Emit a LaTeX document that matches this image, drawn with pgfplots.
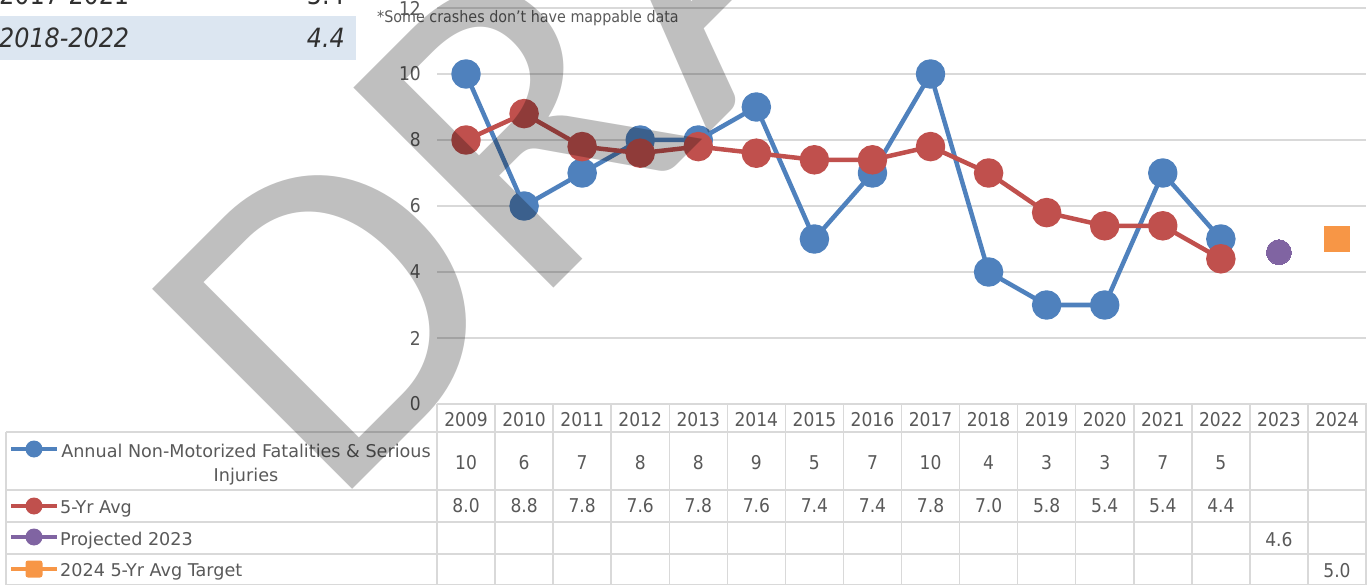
\documentclass[border=0pt]{standalone}
\usepackage{pgfplots}
\pgfplotsset{compat=1.18}
\usepackage{fontspec}
\setmainfont{DejaVu Sans Condensed}
\newfontfamily\legfont{DejaVu Sans}
\newfontfamily\wmfont[Kerning=Off]{Carlito}
\definecolor{blueS}{HTML}{4F81BD}
\definecolor{redS}{HTML}{C0504D}
\definecolor{purpS}{HTML}{8064A2}
\definecolor{orgS}{HTML}{F79646}
\definecolor{gridc}{HTML}{D9D9D9}
\definecolor{txt}{HTML}{595959}
\definecolor{dtxt}{HTML}{303030}
\definecolor{bgblue}{HTML}{DCE6F1}
\begin{document}
\begin{tikzpicture}
\useasboundingbox (0pt,0pt) rectangle (1371pt,-585pt);
\clip (0pt,0pt) rectangle (1371pt,-585pt);
\begin{scope}[x=1pt,y=-1pt]
  \fill[bgblue] (0,16) rectangle (356,60);
  \node[anchor=base west, inner sep=0pt, font=\fontsize{26.5}{30}\selectfont, text=dtxt] at (-1,5) {2017-2021};
  \node[anchor=base east, inner sep=0pt, font=\fontsize{26.5}{30}\selectfont, text=dtxt] at (345,5) {5.4};
  \node[anchor=base west, inner sep=0pt, font=\fontsize{26.5}{30}\selectfont\itshape, text=dtxt] at (-1,48) {2018-2022};
  \node[anchor=base east, inner sep=0pt, font=\fontsize{26.5}{30}\selectfont\itshape, text=dtxt] at (345,48) {4.4};
\end{scope}
\begin{axis}[
  at={(437pt,-404pt)}, anchor=south west,
  scale only axis, width=929pt, height=396pt,
  xmin=-0.5, xmax=15.5, ymin=0, ymax=12,
  ytick={0,2,4,6,8,10,12},
  xtick={0,...,15},
  xticklabels={2009,2010,2011,2012,2013,2014,2015,2016,2017,2018,2019,2020,2021,2022,2023,2024},
  axis line style={draw=none},
  major tick length=0pt,
  ymajorgrids, xmajorgrids=false,
  grid style={line width=1.5pt, color=gridc},
  clip=false,
  /pgf/number format/assume math mode=true,
  tick label style={font=\fontsize{19}{22}\selectfont, text=txt, inner sep=0pt},
  yticklabel style={anchor=east, xshift=-16pt},
  xticklabel style={anchor=base, yshift=-22pt},
]
\addplot[color=blueS, line width=4.5pt, line join=round, mark=*, mark size=12.5pt, mark options={draw=none, fill=blueS}]
  coordinates {(0,10)(1,6)(2,7)(3,8)(4,8)(5,9)(6,5)(7,7)(8,10)(9,4)(10,3)(11,3)(12,7)(13,5)};
\addplot[color=redS, line width=4.5pt, line join=round, mark=*, mark size=12.5pt, mark options={draw=none, fill=redS}]
  coordinates {(0,8.0)(1,8.8)(2,7.8)(3,7.6)(4,7.8)(5,7.6)(6,7.4)(7,7.4)(8,7.8)(9,7.0)(10,5.8)(11,5.4)(12,5.4)(13,4.4)};
\addplot[color=purpS, only marks, mark=*, mark size=12.5pt, mark options={draw=purpS, line width=0pt, fill=purpS}]
  coordinates {(14,4.6)};
\addplot[color=orgS, only marks, mark=square*, mark size=12.5pt, mark options={draw=orgS, line width=0pt, fill=orgS, rounded corners=3pt}]
  coordinates {(15,5.0)};
\end{axis}
\begin{scope}[x=1pt,y=-1pt]
  \node[anchor=base west, inner sep=0pt, font=\fontsize{15.9}{18}\selectfont, text=txt] at (377,23) {*Some crashes don’t have mappable data};
  % table grid
  \begin{scope}[gridc, line width=1.5pt]
    \draw (437,404) -- (1367,404);
    \foreach \yy in {432,490,522,554,585} \draw (6,\yy) -- (1367,\yy);
    \draw (6,432) -- (6,590);
    \foreach \k in {0,...,16} \draw ({437+58.0625*\k},404) -- ({437+58.0625*\k},590);
  \end{scope}
  \begin{scope}[every node/.style={anchor=base, inner sep=0pt, font=\fontsize{19}{22}\selectfont, text=txt}]
    \foreach \v [count=\i from 0] in {10,6,7,8,8,9,5,7,10,4,3,3,7,5}
      \node at ({466.03+58.0625*\i},469) {\v};
    \foreach \v [count=\i from 0] in {8.0,8.8,7.8,7.6,7.8,7.6,7.4,7.4,7.8,7.0,5.8,5.4,5.4,4.4}
      \node at ({466.03+58.0625*\i},512) {\v};
    \node at ({466.03+58.0625*14},546) {4.6};
    \node at ({466.03+58.0625*15},577) {5.0};
  \end{scope}
  \begin{scope}[every node/.style={anchor=base, inner sep=0pt, font=\legfont\fontsize{17.6}{21}\selectfont, text=txt}]
    \node at (246,457) {Annual Non-Motorized Fatalities \& Serious};
    \node at (246,481) {Injuries};
    \node[anchor=base west] at (60,513) {5-Yr Avg};
    \node[anchor=base west] at (60,545) {Projected 2023};
    \node[anchor=base west] at (60,576) {2024 5-Yr Avg Target};
  \end{scope}
  % legend keys
  \draw[blueS, line width=4pt] (11,449) -- (57,449); \fill[blueS] (34,449) circle (8.5pt);
  \draw[redS, line width=4pt] (11,506) -- (57,506); \fill[redS] (34,506) circle (8.5pt);
  \draw[purpS, line width=4pt] (11,537) -- (57,537); \fill[purpS] (34,537) circle (8.5pt);
  \draw[orgS, line width=4pt] (11,569) -- (57,569); \fill[orgS, rounded corners=2.5pt] (25.5,560.5) rectangle (42.5,577.5);
\end{scope}
% watermark
\node[rotate=45, xscale=1.045, anchor=base west, inner sep=0pt, font=\wmfont\fontsize{441}{441}\selectfont, text=black, text opacity=0.25] at (330pt,-512pt) {DRAFT};
\end{tikzpicture}
\end{document}
